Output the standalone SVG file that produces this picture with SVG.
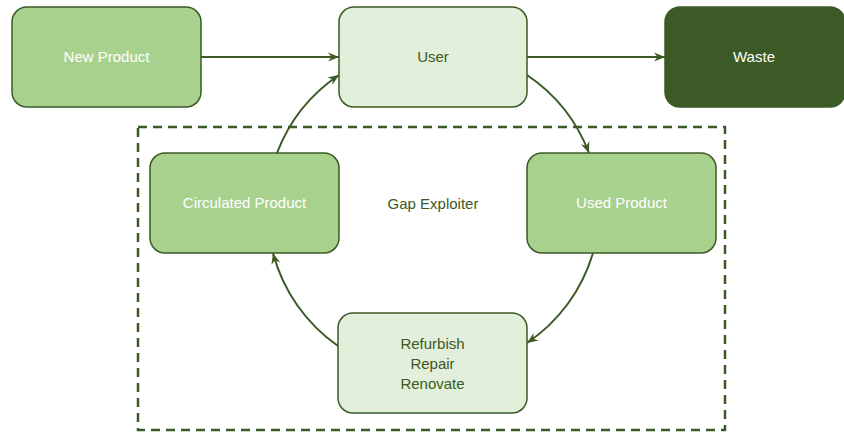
<svg xmlns="http://www.w3.org/2000/svg" width="844" height="432" viewBox="0 0 844 432">
  <defs>
    <style>
      .box { stroke: #3b5a25; stroke-width: 1.5; }
      .mid { fill: #a9d18e; }
      .light { fill: #e2efda; }
      .dark { fill: #3b5a25; }
      .lbl { font-family: "Liberation Sans", Arial, sans-serif; font-size: 15px; text-anchor: middle; }
      .w { fill: #ffffff; }
      .g { fill: #3b5a25; }
      .conn { fill: none; stroke: #3b5a25; stroke-width: 2; marker-end: url(#arr); }
      .frame { fill: none; stroke: #3b5a25; stroke-width: 2.5; stroke-dasharray: 9 6; }
    </style>
    <marker id="arr" viewBox="0 0 12 10" refX="11" refY="5" markerWidth="12" markerHeight="10" markerUnits="userSpaceOnUse" orient="auto">
      <path d="M0,0.5 L11,5 L0,9.5 L3.5,5 z" fill="#3b5a25"/>
    </marker>
  </defs>

  <!-- dashed boundary of the gap-exploiter loop -->
  <rect id="gap-frame" class="frame" x="138" y="127" width="587" height="303"/>
  <text id="gap-label" class="lbl g" x="433" y="209">Gap Exploiter</text>

  <g id="connectors">
    <line class="conn" x1="201" y1="57" x2="339" y2="57"/>
    <line class="conn" x1="527" y1="57" x2="665" y2="57"/>
    <path class="conn" d="M527,75 A165,165 0 0 1 589,153"/>
    <path class="conn" d="M593,253 A165,165 0 0 1 527,343"/>
    <path class="conn" d="M338,346 A165,165 0 0 1 273,253"/>
    <path class="conn" d="M277,153 A165,165 0 0 1 339,75"/>
  </g>

  <g id="new-product">
    <rect class="box mid" x="12" y="7" width="189" height="100" rx="15"/>
    <text class="lbl w" x="106.5" y="62">New Product</text>
  </g>
  <g id="user">
    <rect class="box light" x="339" y="7" width="188" height="100" rx="15"/>
    <text class="lbl g" x="433" y="62">User</text>
  </g>
  <g id="waste">
    <rect class="box dark" x="665" y="7" width="180" height="100" rx="15"/>
    <text class="lbl w" x="754" y="62">Waste</text>
  </g>
  <g id="circulated-product">
    <rect class="box mid" x="150" y="153" width="189" height="100" rx="15"/>
    <text class="lbl w" x="244.5" y="208">Circulated Product</text>
  </g>
  <g id="used-product">
    <rect class="box mid" x="527" y="153" width="189" height="100" rx="15"/>
    <text class="lbl w" x="621.5" y="208">Used Product</text>
  </g>
  <g id="refurbish">
    <rect class="box light" x="338" y="313" width="189" height="100" rx="15"/>
    <text class="lbl g" x="432.5" y="349">Refurbish</text>
    <text class="lbl g" x="432.5" y="369">Repair</text>
    <text class="lbl g" x="432.5" y="389">Renovate</text>
  </g>
</svg>
